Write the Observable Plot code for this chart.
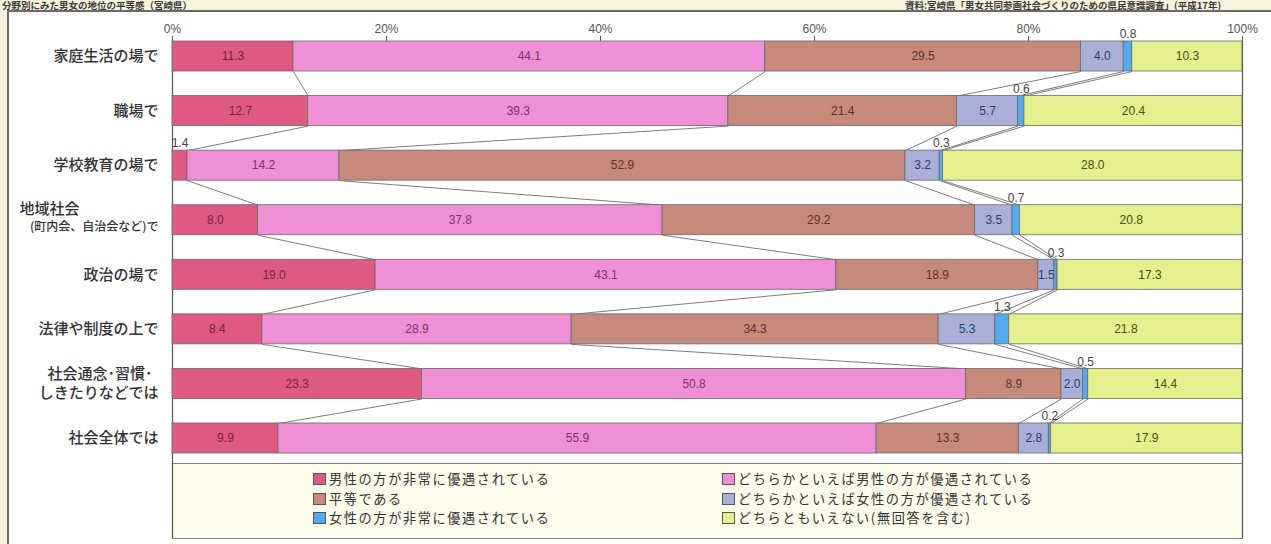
<!DOCTYPE html>
<html><head><meta charset="utf-8">
<script src="https://cdn.jsdelivr.net/npm/d3@7"></script>
<script src="https://cdn.jsdelivr.net/npm/@observablehq/plot@0.6"></script>
<style>
body{margin:0;background:#f7f2da;width:1271px;height:544px;overflow:hidden;position:relative;font-family:"Noto Sans CJK JP","Noto Sans",sans-serif;}
.ttl{position:absolute;top:0px;font-size:9.5px;line-height:10px;font-weight:bold;color:#3a3a3a;white-space:nowrap;}
#frame{position:absolute;left:7px;top:10px;width:1280px;height:560px;background:#fff;border-left:2px solid #6a6a6a;border-top:2px solid #6a6a6a;}
#legbox{position:absolute;left:172px;top:463px;width:1071px;height:76px;background:#fdfbea;border:1px solid #808080;box-sizing:border-box;}
#chart{position:absolute;left:0;top:0;}
.leg{position:absolute;height:16px;font-size:13.2px;color:#333;display:flex;align-items:center;white-space:nowrap;letter-spacing:1.6px;line-height:16px;}
.sw{width:11px;height:10px;border:1px solid #555;margin-right:3px;flex:none;}
svg text.ylab{letter-spacing:1.4px;}
</style></head>
<body>
<div class="ttl" style="left:2px">分野別にみた男女の地位の平等感（宮崎県）</div>
<div class="ttl" style="left:905px">資料:宮崎県「男女共同参画社会づくりのための県民意識調査」(平成17年)</div>
<div id="frame"></div>
<div id="legbox"></div>
<div id="legend"></div>
<div id="chart"></div>
<script>
const categories = ["家庭生活の場で","職場で","学校教育の場で","地域社会\n(町内会、自治会など)で","政治の場で","法律や制度の上で","社会通念･習慣･\nしきたりなどでは","社会全体では"];
const seriesNames = ["男性の方が非常に優遇されている","どちらかといえば男性の方が優遇されている","平等である","どちらかといえば女性の方が優遇されている","女性の方が非常に優遇されている","どちらともいえない(無回答を含む)"];
const menVery   = [11.3, 12.7, 1.4, 8.0, 19.0, 8.4, 23.3, 9.9];
const menSome   = [44.1, 39.3, 14.2, 37.8, 43.1, 28.9, 50.8, 55.9];
const equal     = [29.5, 21.4, 52.9, 29.2, 18.9, 34.3, 8.9, 13.3];
const womenSome = [4.0, 5.7, 3.2, 3.5, 1.5, 5.3, 2.0, 2.8];
const womenVery = [0.8, 0.6, 0.3, 0.7, 0.3, 1.3, 0.5, 0.2];
const neither   = [10.3, 20.4, 28.0, 20.8, 17.3, 21.8, 14.4, 17.9];
const tickValues = [0, 20, 40, 60, 80, 100];
const tickLabels = ["0%", "20%", "40%", "60%", "80%", "100%"];
const colors = ["#df5a83", "#ef8fd6", "#c58a7b", "#a9afd7", "#52aaf0", "#e6ef8d"];
const textColors = ["#7d1d3d", "#7d3272", "#5e3329", "#2e3d72", "#2e3d72", "#4d4d12"];

const seriesValues = [menVery, menSome, equal, womenSome, womenVery, neither];
const H = 0.275;
const table = [];
const ends = [];
categories.forEach((c, i) => {
  const total = d3.sum(seriesValues, v => v[i]);
  let cum = 0; const e = [];
  seriesValues.forEach((vals, k) => {
    const v = vals[i];
    const x1 = cum / total * 100, x2 = (cum + v) / total * 100;
    table.push({cat: c, i, k, series: seriesNames[k], value: v, x1, x2});
    cum += v; e.push(x2);
  });
  ends.push(e);
});
const links = [];
for (let k = 0; k < 5; k++) for (let i = 0; i < categories.length - 1; i++)
  links.push({x1: ends[i][k], x2: ends[i+1][k], y1: i + H, y2: i + 1 - H});
const isInside = d => d.k !== 4 && d.value >= 1.5;
const inside = table.filter(isInside);
const outside = table.filter(d => !isInside(d));

// y-axis label layout
const labelRows = [];
categories.forEach((c, i) => {
  const lines = c.split("\n");
  if (lines.length === 1) labelRows.push({i, text: c, group: "single"});
  else if (lines[1].startsWith("(")) {
    labelRows.push({i, text: lines[0], group: "headStart"});
    labelRows.push({i, text: lines[1], group: "subSmall"});
  } else {
    labelRows.push({i, text: lines[0], group: "line1"});
    labelRows.push({i, text: lines[1], group: "line2"});
  }
});
const labelStyle = {
  single:    {dx: -14, dy: 0,   textAnchor: "end",   fontSize: 15},
  headStart: {dx: -153, dy: -11, textAnchor: "start", fontSize: 15},
  subSmall:  {dx: -14, dy: 7,   textAnchor: "end",   fontSize: 12},
  line1:     {dx: -20, dy: -9.5, textAnchor: "end",  fontSize: 15},
  line2:     {dx: -14, dy: 9.5,  textAnchor: "end",  fontSize: 15}
};
const labelMarks = Object.entries(labelStyle).map(([g, s]) =>
  Plot.text(labelRows.filter(d => d.group === g), {y: "i", frameAnchor: "left", text: "text", fill: "#333", fontWeight: 500, className: "ylab", ...s}));

const fmt = d => d.value.toFixed(1);
const numFont = '"Liberation Sans", Arial, sans-serif';

const chart = Plot.plot({
  width: 1271, height: 544,
  marginLeft: 172, marginRight: 29, marginTop: 41, marginBottom: 6,
  x: {domain: [0, 100]},
  y: {domain: [0, 7], range: [56, 438], axis: null},
  color: {domain: seriesNames, range: colors},
  style: {background: "transparent", fontFamily: '"Noto Sans CJK JP", sans-serif', overflow: "visible"},
  marks: [
    Plot.ruleX([0, 100], {stroke: "#555", strokeWidth: 1.2}),
    Plot.axisX({anchor: "top", ticks: tickValues, tickFormat: d => tickLabels[tickValues.indexOf(d)], tickSize: 6, tickPadding: 3, fontSize: 12, fill: "#555", stroke: "#555", fontFamily: numFont, label: null}),
    Plot.link(links, {x1: "x1", x2: "x2", y1: "y1", y2: "y2", stroke: "#6e6e6e", strokeWidth: 0.9}),
    Plot.rect(table, {x1: "x1", x2: "x2", y1: d => d.i - H, y2: d => d.i + H, fill: "series", stroke: "#6a6a6a", strokeWidth: 0.8}),
    Plot.text(inside, {x: d => (d.x1 + d.x2) / 2, y: "i", text: fmt, fill: d => textColors[d.k], fontSize: 12, fontFamily: numFont}),
    Plot.text(outside, {x: d => (d.x1 + d.x2) / 2, y: d => d.i - H, dy: -7, text: fmt, fill: "#444", fontSize: 12, fontFamily: numFont}),
    ...labelMarks
  ]
});
document.getElementById("chart").appendChild(chart);

// legend: two columns, three rows (row-major order)
const legendCols = [313, 722];
const legendRowsY = [471, 490.5, 510];
const legend = document.getElementById("legend");
seriesNames.forEach((name, k) => {
  const el = document.createElement("div");
  el.className = "leg";
  el.style.left = legendCols[k % 2] + "px";
  el.style.top = legendRowsY[Math.floor(k / 2)] + "px";
  const sw = document.createElement("span");
  sw.className = "sw";
  sw.style.background = colors[k];
  el.appendChild(sw);
  el.appendChild(document.createTextNode(name));
  legend.appendChild(el);
});
</script>
</body></html>
